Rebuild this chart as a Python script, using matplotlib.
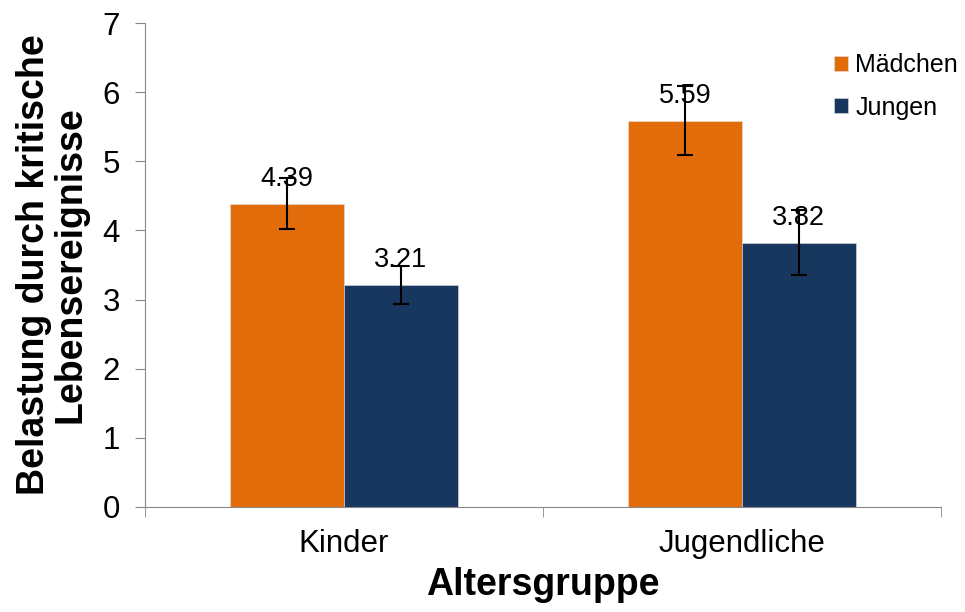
import numpy as np
import matplotlib.pyplot as plt

plt.rcParams['font.family'] = ['Liberation Sans', 'DejaVu Sans']

groups = ['Kinder', 'Jugendliche']
series = ['Mädchen', 'Jungen']
maedchen = [4.39, 5.59]
jungen = [3.21, 3.82]
maedchen_err = [0.37, 0.50]
jungen_err = [0.27, 0.47]
colors = ['#E36C0A', '#17375E']

fig = plt.figure(figsize=(9.65, 6.12), dpi=100)
ax = fig.add_axes([0.150, 0.172, 0.825, 0.790])

x = np.arange(len(groups))
w = 0.286
for vals, errs, off, col, name in [(maedchen, maedchen_err, -w / 2, colors[0], series[0]),
                                   (jungen, jungen_err, w / 2, colors[1], series[1])]:
    ax.bar(x + off, vals, w, color=col, edgecolor='#e0e0e0', linewidth=0.4, label=name, zorder=2)
    ax.errorbar(x + off, vals, yerr=errs, fmt='none', ecolor='black', elinewidth=1.5,
                capsize=6, capthick=1.5, zorder=4)
    for xi, v in zip(x + off, vals):
        ax.text(xi, v + 0.36, f'{v:.2f}', ha='center', va='center', fontsize=19.5, zorder=3)

ax.set_xlim(-0.5, 1.5)
ax.set_ylim(0, 7)
ax.set_yticks(range(8))
ax.set_xticks(x)
ax.set_xticklabels(groups)
ax.set_xticks([-0.5, 0.5, 1.5], minor=True)
ax.tick_params(axis='x', which='major', length=0, labelsize=22.5, pad=16)
ax.tick_params(axis='x', which='minor', length=7, color='#888888')
ax.tick_params(axis='y', length=7, color='#888888', labelsize=22.5, pad=11)

for s in ['top', 'right']:
    ax.spines[s].set_visible(False)
for s in ['left', 'bottom']:
    ax.spines[s].set_color('#888888')

ax.set_ylabel('Belastung durch kritische\nLebensereignisse', fontsize=27, fontweight='bold',
              labelpad=10, linespacing=1.0)
ax.set_xlabel('Altersgruppe', fontsize=27, fontweight='bold', labelpad=6)

ax.legend(loc='upper right', bbox_to_anchor=(1.05, 0.985), frameon=False, fontsize=18,
          handlelength=0.55, handleheight=0.55, handletextpad=0.3, labelspacing=0.75)

fig.savefig('out.png', dpi=100)
